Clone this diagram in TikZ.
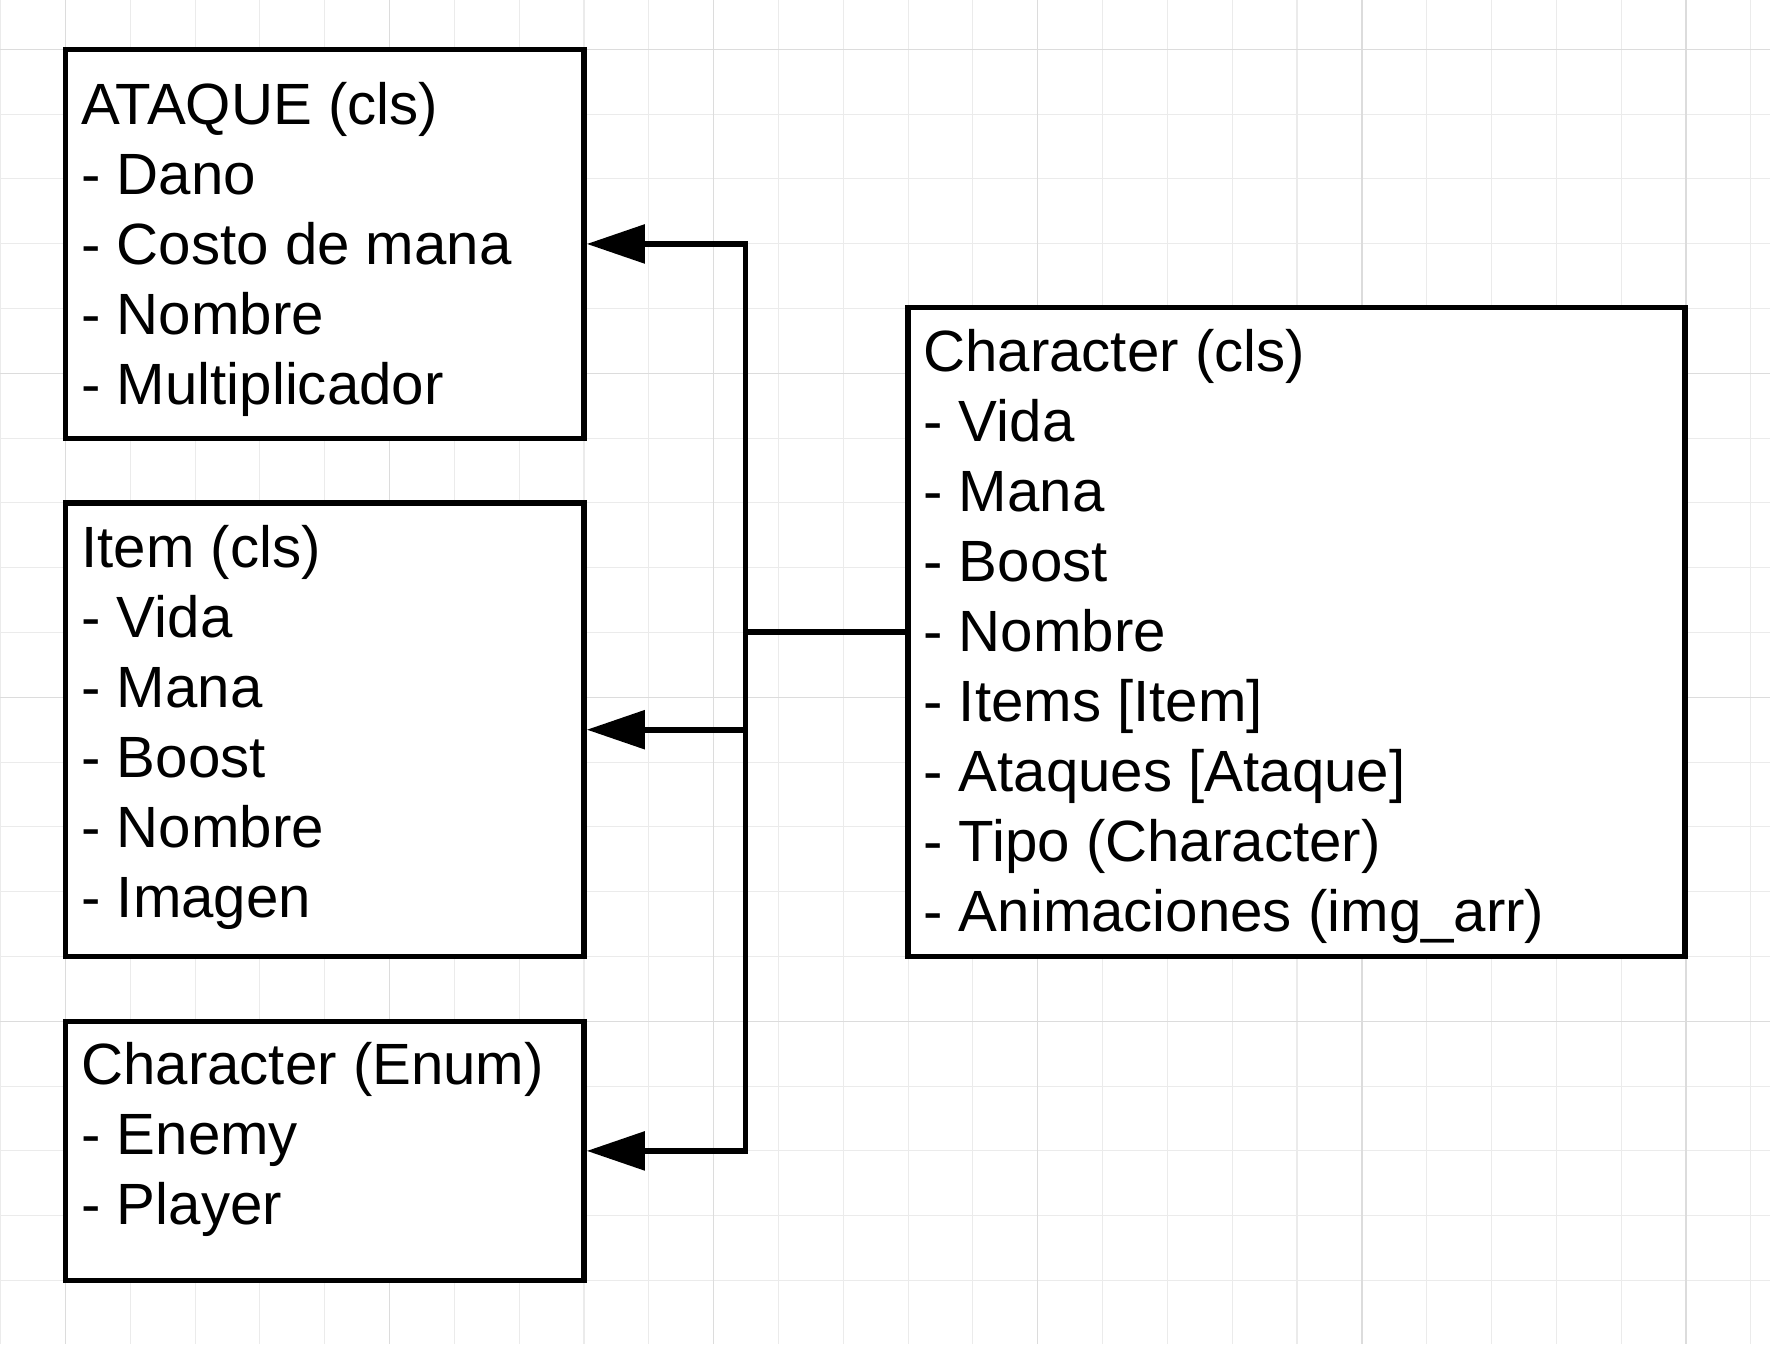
\documentclass[tikz,border=0pt]{standalone}
\usepackage{fontspec}
\setmainfont{Liberation Sans}
\usetikzlibrary{arrows.meta,fit}
\definecolor{gridminor}{HTML}{EBEBEB}
\definecolor{gridmajor}{HTML}{DCDCDC}
\begin{document}
\begin{tikzpicture}[x=0.5pt,y=-0.5pt,
  minorgrid/.style={draw=gridminor, line width=0.55pt},
  majorgrid/.style={draw=gridmajor, line width=0.75pt},
  classbox/.style={draw=black, line width=2.8pt, inner sep=0pt, fill=white},
  txt/.style={anchor=base west, inner sep=0pt, font=\fontsize{29.1pt}{35pt}\selectfont},
  conn/.style={line width=2.8pt, -{Triangle[length=29pt,width=19pt]}}
]
\fill[white] (0,0) rectangle (1770,1344);
\useasboundingbox (0,0) rectangle (1770,1344);
% grid
\foreach \k in {0,...,27} {
  \pgfmathsetmacro\gx{0.6+64.82*\k}
  \draw[minorgrid] (\gx,0) -- (\gx,1344);
}
\foreach \j in {0,...,19} {
  \pgfmathsetmacro\gy{49.3+64.8*\j}
  \draw[minorgrid] (0,\gy) -- (1770,\gy);
}
\foreach \k in {1,6,11,16,21,26} {
  \pgfmathsetmacro\gx{0.6+64.82*\k}
  \draw[majorgrid] (\gx,0) -- (\gx,1344);
}
\foreach \j in {0,5,10,15} {
  \pgfmathsetmacro\gy{49.3+64.8*\j}
  \draw[majorgrid] (0,\gy) -- (1770,\gy);
}
% boxes
\node[classbox, fit={(65.4,49.3) (584,438.6)}] (ataque) {};
\node[classbox, fit={(65.4,502.9) (584,956.5)}] (item) {};
\node[classbox, fit={(65.4,1021.3) (584,1280.5)}] (enum) {};
\node[classbox, fit={(908,307.5) (1685,956.5)}] (char) {};
% texts
\foreach \t [count=\i] in {{ATAQUE (cls)},{- Dano},{- Costo de mana},{- Nombre},{- Multiplicador}}
  \node[txt] (ataque\i) at (81,{124+70*(\i-1)}) {\t};
\foreach \t [count=\i] in {{Item (cls)},{- Vida},{- Mana},{- Boost},{- Nombre},{- Imagen}}
  \node[txt] (item\i) at (81,{567+70*(\i-1)}) {\t};
\foreach \t [count=\i] in {{Character (Enum)},{- Enemy},{- Player}}
  \node[txt] (enum\i) at (81,{1084+70*(\i-1)}) {\t};
\foreach \t [count=\i] in {{Character (cls)},{- Vida},{- Mana},{- Boost},{- Nombre},{- Items [Item]},{- Ataques [Ataque]},{- Tipo (Character)},{- Animaciones (img\_arr)}}
  \node[txt] (char\i) at (923,{371+70*(\i-1)}) {\t};
% connectors
\coordinate (junc) at (745.5,632);
\draw[conn] (char.west) -- (junc) |- (ataque.east);
\draw[conn] (char.west) -- (junc) |- (item.east);
\draw[conn] (char.west) -- (junc) |- (enum.east);
\end{tikzpicture}
\end{document}
